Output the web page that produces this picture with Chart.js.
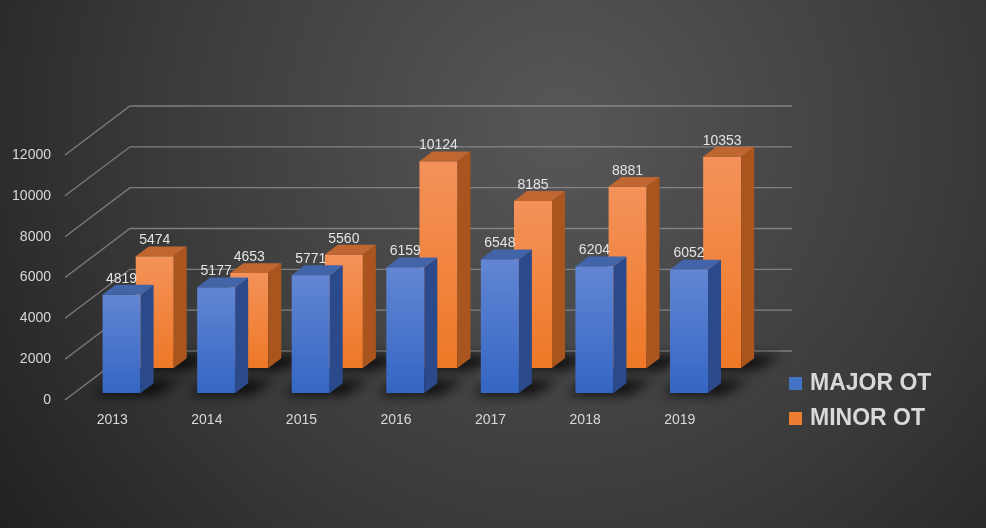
<!DOCTYPE html>
<html>
<head>
<meta charset="utf-8">
<script src="https://cdn.jsdelivr.net/npm/chart.js@4.4.1/dist/chart.umd.min.js"></script>
<style>
  html, body { margin: 0; padding: 0; background: #2b2b2b; }
  #wrap { width: 986px; height: 528px; position: relative; }
</style>
</head>
<body>
<div id="wrap"><canvas id="chart" width="986" height="528"></canvas></div>
<script>
// data
const years = ['2013', '2014', '2015', '2016', '2017', '2018', '2019'];
const majorOT = [4819, 5177, 5771, 6159, 6548, 6204, 6052];
const minorOT = [5474, 4653, 5560, 10124, 8185, 8881, 10353];
const yMax = 12000;
const yStep = 2000;

// fake 3d projection: how far the back wall sits from the front edge
const DEPTH_X = 65;
const DEPTH_Y = 49;
const BOX = 0.2; // depth of one bar, fraction of floor depth

const textColor = '#d9d9d9';
const labelFont = '14px "Liberation Sans", Arial, sans-serif';

const looks = [
    { front: ['#6286d3', '#3466c4'], side: '#2b4a8c', top: '#4264a8', legend: '#4472c4' },
    { front: ['#f4925a', '#ee7826'], side: '#a9551d', top: '#c06630', legend: '#ed7d31' }
];

function drawBox(ctx, x0, yTop, yBase, w, look) {
    const bx = DEPTH_X * BOX, by = DEPTH_Y * BOX;
    const g = ctx.createLinearGradient(0, yTop, 0, yBase);
    g.addColorStop(0, look.front[0]);
    g.addColorStop(1, look.front[1]);
    ctx.fillStyle = g;
    ctx.fillRect(x0, yTop, w, yBase - yTop);

    ctx.fillStyle = look.side;
    ctx.beginPath();
    ctx.moveTo(x0 + w, yTop);
    ctx.lineTo(x0 + w + bx, yTop - by);
    ctx.lineTo(x0 + w + bx, yBase - by);
    ctx.lineTo(x0 + w, yBase);
    ctx.closePath();
    ctx.fill();

    ctx.fillStyle = look.top;
    ctx.beginPath();
    ctx.moveTo(x0, yTop);
    ctx.lineTo(x0 + bx, yTop - by);
    ctx.lineTo(x0 + w + bx, yTop - by);
    ctx.lineTo(x0 + w, yTop);
    ctx.closePath();
    ctx.fill();
}

const threeD = {
    id: 'threeD',
    beforeDraw(chart) {
        const { ctx, width, height } = chart;
        ctx.save();
        const bg = ctx.createRadialGradient(560, 130, 20, 560, 130, 720);
        bg.addColorStop(0, '#565656');
        bg.addColorStop(0.55, '#3a3a3a');
        bg.addColorStop(1, '#1e1e1e');
        ctx.fillStyle = bg;
        ctx.fillRect(0, 0, width, height);
        ctx.restore();
    },
    beforeDatasetsDraw(chart) {
        const { ctx, chartArea, scales } = chart;
        const y = scales.y;
        ctx.save();
        ctx.strokeStyle = 'rgba(150,150,150,0.75)';
        ctx.lineWidth = 1.3;
        for (const t of y.ticks) {
            const py = y.getPixelForValue(t.value);
            ctx.beginPath();
            ctx.moveTo(chartArea.left, py);
            ctx.lineTo(chartArea.left + DEPTH_X, py - DEPTH_Y);
            ctx.lineTo(chartArea.right + DEPTH_X, py - DEPTH_Y);
            ctx.stroke();
        }
        ctx.restore();
    },
    afterDatasetsDraw(chart) {
        const { ctx } = chart;
        const bars = [];
        chart.data.datasets.forEach((ds, di) => {
            const meta = chart.getDatasetMeta(di);
            meta.data.forEach((el, i) => {
                const p = el.getProps(['x', 'y', 'base', 'width'], true);
                const dx = DEPTH_X * ds.row, dy = DEPTH_Y * ds.row;
                bars.push({
                    di, value: ds.data[i],
                    x0: p.x - p.width / 2 + dx,
                    w: p.width,
                    yTop: p.y - dy,
                    yBase: p.base - dy,
                    row: ds.row
                });
            });
        });
        bars.sort((a, b) => b.row - a.row);

        // shadows on the floor
        ctx.save();
        ctx.filter = 'blur(6px)';
        ctx.fillStyle = 'rgba(0,0,0,0.8)';
        for (const b of bars) {
            const bx = DEPTH_X * BOX, by = DEPTH_Y * BOX;
            ctx.beginPath();
            ctx.moveTo(b.x0 - 8, b.yBase + 2);
            ctx.lineTo(b.x0 + b.w + 14, b.yBase + 2);
            ctx.lineTo(b.x0 + b.w + bx + 28, b.yBase - by - 3);
            ctx.lineTo(b.x0 + bx - 4, b.yBase - by - 3);
            ctx.closePath();
            ctx.fill();
        }
        ctx.restore();

        ctx.save();
        for (const b of bars) {
            drawBox(ctx, b.x0, b.yTop, b.yBase, b.w, looks[b.di]);
        }
        // value labels
        ctx.fillStyle = '#e4e4e4';
        ctx.font = labelFont;
        ctx.textAlign = 'center';
        ctx.textBaseline = 'middle';
        for (const b of bars) {
            ctx.fillText(String(b.value), b.x0 + b.w / 2, b.yTop - DEPTH_Y * BOX - 6);
        }
        ctx.restore();
    },
    afterDraw(chart) {
        const { ctx } = chart;
        ctx.save();
        ctx.font = 'bold 23px "Liberation Sans", Arial, sans-serif';
        ctx.textBaseline = 'middle';
        chart.data.datasets.forEach((ds, i) => {
            const cy = 384 + i * 35;
            ctx.fillStyle = looks[i].legend;
            ctx.fillRect(789, cy - 7, 13, 13);
            ctx.fillStyle = textColor;
            ctx.fillText(ds.label, 810, cy);
        });
        ctx.restore();
    }
};

new Chart(document.getElementById('chart'), {
    type: 'bar',
    data: {
        labels: years,
        datasets: [{
            label: 'MAJOR OT',
            data: majorOT,
            row: 0.143,
            backgroundColor: 'rgba(0,0,0,0)',
            borderWidth: 0
        }, {
            label: 'MINOR OT',
            data: minorOT,
            row: 0.653,
            backgroundColor: 'rgba(0,0,0,0)',
            borderWidth: 0
        }]
    },
    options: {
        responsive: false,
        animation: false,
        devicePixelRatio: 1,
        clip: false,
        layout: { padding: { left: 0, top: 155, right: 259, bottom: 0 } },
        datasets: { bar: { grouped: false, barThickness: 38 } },
        plugins: { legend: { display: false }, tooltip: { enabled: false } },
        scales: {
            x: {
                grid: { display: false, drawTicks: false },
                border: { display: false },
                ticks: { color: textColor, font: { family: '"Liberation Sans", Arial, sans-serif', size: 14 }, padding: 12 },
                afterFit(scale) { scale.height = 128; }
            },
            y: {
                min: 0,
                max: yMax,
                grid: { display: false, drawTicks: false },
                border: { display: false },
                ticks: {
                    stepSize: yStep,
                    color: textColor,
                    font: { family: '"Liberation Sans", Arial, sans-serif', size: 14 },
                    padding: 14,
                    callback: (v) => String(v)
                },
                afterFit(scale) { scale.width = 65; }
            }
        }
    },
    plugins: [threeD]
});
</script>
</body>
</html>
